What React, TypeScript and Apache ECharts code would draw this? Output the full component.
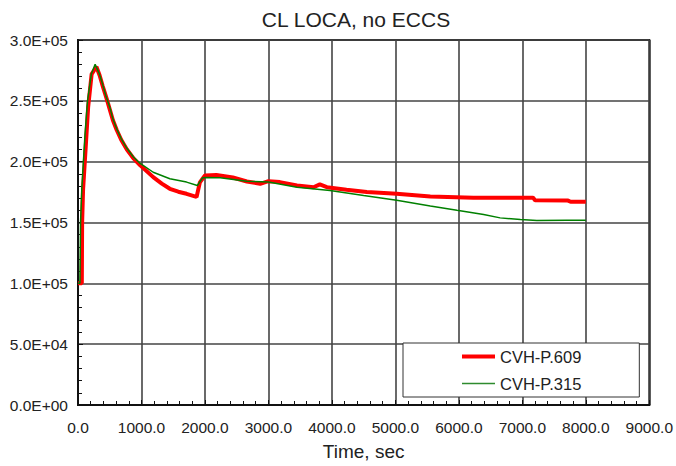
import React, { useEffect, useRef } from "react";
import * as echarts from "echarts";

const titleText = "CL LOCA, no ECCS";
const xAxisName = "Time, sec";
const seriesNames = ["CVH-P.609", "CVH-P.315"];

const redTime = [0, 60, 65, 80, 125, 160, 215, 290, 340, 390, 450, 500, 550, 610, 680, 770, 870, 980, 1185, 1320, 1447, 1580, 1710, 1840, 1868, 1920, 2000, 2180, 2440, 2660, 2870, 3000, 3180, 3450, 3710, 3810, 3920, 4230, 4550, 5020, 5550, 6230, 7170, 7200, 7720, 7760, 8000];
const redPressure = [100000, 100000, 150000, 177000, 215000, 245000, 272000, 278000, 271000, 262000, 252000, 243000, 234000, 226000, 218000, 210000, 203000, 197000, 187300, 182000, 177700, 175300, 173600, 171500, 171000, 183000, 188600, 189000, 187000, 183700, 181800, 184000, 183200, 180400, 179000, 181300, 179000, 176900, 175000, 173600, 171400, 170400, 170400, 168200, 168000, 167000, 167000];

const greenTime = [0, 30, 40, 60, 110, 150, 210, 270, 330, 380, 440, 500, 550, 610, 680, 770, 870, 980, 1185, 1447, 1710, 1880, 1960, 2000, 2240, 2660, 3000, 3450, 3970, 4500, 5020, 5550, 5970, 6390, 6650, 6970, 7230, 7700, 8000];
const greenPressure = [100000, 100000, 150000, 178000, 222000, 250000, 272000, 280000, 273000, 265000, 254000, 245000, 235000, 227000, 219000, 211000, 204000, 198500, 191300, 186000, 183200, 180400, 186500, 187000, 186800, 184000, 183200, 179000, 176300, 172200, 168200, 163600, 160000, 156500, 153800, 152400, 151600, 151900, 151900];

const xMin = 0, xMax = 9000, xStep = 1000;
const yMin = 0, yMax = 300000, yStep = 50000;

const FONT = "'Liberation Sans', Arial, sans-serif";

function sci(v: number): string {
  if (v === 0) return "0.0E+00";
  const e = Math.floor(Math.log10(Math.abs(v)) + 1e-9);
  const m = v / Math.pow(10, e);
  const sign = e < 0 ? "-" : "+";
  return `${m.toFixed(1)}E${sign}${String(Math.abs(e)).padStart(2, "0")}`;
}

export default function App() {
  const ref = useRef<HTMLDivElement>(null);
  useEffect(() => {
    document.body.style.margin = "0";
    const chart = echarts.init(ref.current!, undefined, { renderer: "svg" });
    const redData = redTime.map((t, i) => [t, redPressure[i]]);
    const greenData = greenTime.map((t, i) => [t, greenPressure[i]]);
    chart.setOption({
      animation: false,
      backgroundColor: "#ffffff",
      title: {
        text: titleText,
        left: 351,
        textAlign: "center",
        top: 4,
        textStyle: { fontFamily: FONT, fontSize: 21, fontWeight: "normal", color: "#222" },
      },
      grid: {
        left: 78,
        right: 26,
        top: 40,
        bottom: 58,
        show: true,
        borderColor: "#222",
        borderWidth: 2,
        backgroundColor: "#ffffff",
      },
      legend: {
        orient: "vertical",
        left: 403,
        top: 343,
        padding: [5, 58, 5, 59],
        itemGap: 10,
        itemWidth: 33,
        itemHeight: 14,
        backgroundColor: "#ffffff",
        borderColor: "#333",
        borderWidth: 1,
        borderRadius: 0,
        textStyle: { fontFamily: FONT, fontSize: 16.5, color: "#222" },
        data: [
          { name: seriesNames[0], icon: "path://M0,0H33V4H0Z", itemStyle: { color: "#ff0000", borderWidth: 0 } },
          { name: seriesNames[1], icon: "path://M0,0H33V1.5H0Z", itemStyle: { color: "#2e8b2e", borderWidth: 0 } },
        ],
      },
      xAxis: {
        type: "value",
        min: xMin,
        max: xMax,
        interval: xStep,
        name: xAxisName,
        nameLocation: "middle",
        nameGap: 37,
        nameTextStyle: { fontFamily: FONT, fontSize: 19, color: "#222" },
        axisLine: { show: true, lineStyle: { color: "#111", width: 2 } },
        axisTick: { show: true, inside: true, length: 5, lineStyle: { color: "#111" } },
        minorTick: { show: true, splitNumber: 5, length: 4, lineStyle: { color: "#111" } },
        splitLine: { show: true, lineStyle: { color: "#444", width: 1.6 } },
        axisLabel: {
          margin: 14,
          fontFamily: FONT,
          fontSize: 15.5,
          color: "#222",
          formatter: (v: number) => v.toFixed(1),
        },
      },
      yAxis: {
        type: "value",
        min: yMin,
        max: yMax,
        interval: yStep,
        axisLine: { show: true, lineStyle: { color: "#111", width: 2 } },
        axisTick: { show: true, inside: true, length: 5, lineStyle: { color: "#111" } },
        minorTick: { show: true, splitNumber: 5, length: 4, lineStyle: { color: "#111" } },
        splitLine: { show: true, lineStyle: { color: "#444", width: 1.6 } },
        axisLabel: {
          margin: 10,
          fontFamily: FONT,
          fontSize: 15.5,
          color: "#222",
          formatter: (v: number) => sci(v),
        },
      },
      series: [
        {
          name: seriesNames[0],
          type: "line",
          data: redData,
          symbol: "none",
          showSymbol: false,
          z: 3,
          lineStyle: { color: "#ff0000", width: 4 },
          itemStyle: { color: "#ff0000" },
        },
        {
          name: seriesNames[1],
          type: "line",
          data: greenData,
          symbol: "none",
          showSymbol: false,
          z: 4,
          lineStyle: { color: "#008000", width: 1.5 },
          itemStyle: { color: "#008000" },
        },
      ],
    });
    return () => chart.dispose();
  }, []);
  return <div ref={ref} style={{ width: 676, height: 466 }} />;
}
